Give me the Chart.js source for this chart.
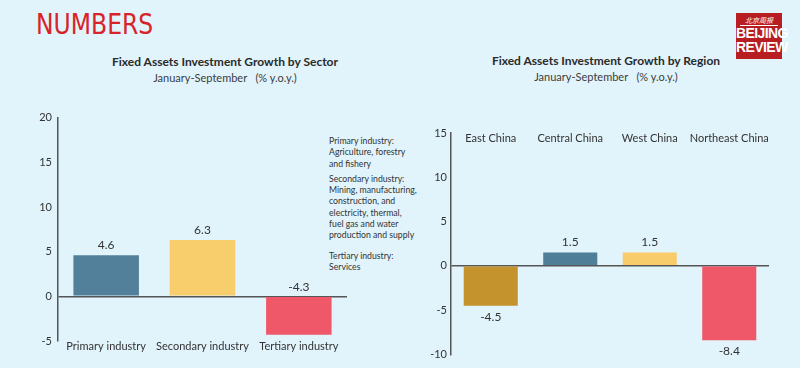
<!DOCTYPE html>
<html>
<head>
<meta charset="utf-8">
<script src="https://cdn.jsdelivr.net/npm/chart.js@4.4.0/dist/chart.umd.min.js"></script>
<style>
  html, body { margin: 0; padding: 0; }
  body { width: 800px; height: 368px; background: #e1f3fb; position: relative; overflow: hidden; font-family: Lato, "Open Sans", sans-serif; color: #333; }
  .brand { position: absolute; left: 36px; top: 7px; font-family: "Liberation Sans Narrow", "DejaVu Sans Condensed", sans-serif; font-size: 29px; color: #d8232a; transform: scaleX(0.9); transform-origin: left top; }
  .title { position: absolute; text-align: center; font-weight: bold; font-size: 12px; color: #2a2a2a; width: 360px; }
  .sub { position: absolute; text-align: center; font-size: 11px; color: #3c3c3c; width: 360px; white-space: pre; }
  .box { position: absolute; }
  .note { position: absolute; left: 329px; top: 135px; font-size: 8.7px; line-height: 11.3px; color: #333; }
  .note p { margin: 0 0 4px 0; }
  .logo { position: absolute; left: 736px; top: 13px; width: 46px; height: 46px; background: #b81d22; color: #fff; text-align: center; }
  .logo .cn { font-family: "Noto Sans CJK SC", sans-serif; font-size: 7px; line-height: 9px; margin-top: 3px; font-style: italic; border-bottom: 1px solid #fff; margin-left: 4px; margin-right: 4px; }
  .logo .en { font-family: "Liberation Sans Narrow", sans-serif; font-weight: bold; font-size: 14px; line-height: 14px; letter-spacing: -0.6px; }
</style>
</head>
<body>
<div class="brand">NUMBERS</div>
<div class="logo"><div class="cn">北京周报</div><div class="en">BEIJING</div><div class="en">REVIEW</div></div>

<div class="title" style="left:45px; top:54px;">Fixed Assets Investment Growth by Sector</div>
<div class="sub" style="left:45px; top:71px;">January-September   (% y.o.y.)</div>
<div class="title" style="left:426px; top:53px;">Fixed Assets Investment Growth by Region</div>
<div class="sub" style="left:426px; top:70px;">January-September   (% y.o.y.)</div>

<div class="note">
  <p>Primary industry:<br>Agriculture, forestry<br>and fishery</p>
  <p>Secondary industry:<br>Mining, manufacturing,<br>construction, and<br>electricity, thermal,<br>fuel gas and water<br>production and supply</p>
  <p style="margin-top:9px">Tertiary industry:<br>Services</p>
</div>

<div class="box" style="left:0px; top:105px; width:350px; height:260px;"><canvas id="sectorChart"></canvas></div>
<div class="box" style="left:400px; top:105px; width:380px; height:260px;"><canvas id="regionChart"></canvas></div>

<script>
const sectorLabels = ["Primary industry", "Secondary industry", "Tertiary industry"]
const sectorValues = [4.6, 6.3, -4.3]
const sectorColors = ["#527f99", "#f8cd6c", "#ef5868"]
const sectorMin = -5
const sectorMax = 20

const regionLabels = ["East China", "Central China", "West China", "Northeast China"]
const regionValues = [-4.5, 1.5, 1.5, -8.4]
const regionColors = ["#c4932e", "#4e7e98", "#f8cc6a", "#ef5868"]
const regionMin = -10
const regionMax = 15

const tickStep = 5
const textColor = "#333"
const axisColor = "#555"

// value labels over / under the bars, and category names inside the top of the plot
const valueLabels = {
	id: "valueLabels",
	afterDatasetsDraw(chart, args, opts) {
		const ctx = chart.ctx
		const meta = chart.getDatasetMeta(0)
		const data = chart.data.datasets[0].data
		ctx.save()
		ctx.font = "12px Lato"
		ctx.fillStyle = textColor
		ctx.textAlign = "center"
		ctx.textBaseline = "middle"
		meta.data.forEach((bar, i) => {
			const v = data[i]
			let y
			if (v >= 0 || opts.mode === "above") {
				y = Math.min(bar.y, bar.base) - 10
			} else {
				y = Math.max(bar.y, bar.base) + 11
			}
			ctx.fillText(String(v), bar.x, y)
		})
		if (opts.topLabels) {
			const xs = chart.scales.x
			ctx.font = "11px Lato"
			chart.data.labels.forEach((lab, i) => {
				ctx.fillText(lab, xs.getPixelForValue(i), chart.chartArea.top + 5)
			})
		}
		ctx.restore()
	}
}

function makeChart(id, labels, values, colors, min, max, opts) {
	return new Chart(id, {
		type: "bar",
		data: {
			labels: labels,
			datasets: [{
				data: values,
				backgroundColor: colors,
				barPercentage: opts.barPct,
				categoryPercentage: 1
			}]
		},
		plugins: [valueLabels],
		options: {
			responsive: true,
			maintainAspectRatio: false,
			animation: false,
			layout: { padding: opts.padding },
			plugins: {
				legend: { display: false },
				tooltip: { enabled: false },
				valueLabels: { mode: opts.mode, topLabels: opts.topLabels }
			},
			scales: {
				x: {
					position: "bottom",
					grid: { display: false, drawTicks: false },
					border: { display: false },
					ticks: { display: !opts.topLabels, color: textColor, font: { family: "Lato", size: 11 }, padding: -1, maxRotation: 0 },
					afterFit: (scale) => { scale.height = opts.xHeight }
				},
				y: {
					min: min,
					max: max,
					grid: {
						drawTicks: false,
						color: (c) => c.tick && c.tick.value === 0 ? axisColor : "rgba(0,0,0,0)",
						lineWidth: 1.5
					},
					border: { display: true, color: axisColor, width: 1.5 },
					ticks: { stepSize: tickStep, color: textColor, font: { family: "Lato", size: 11 }, padding: opts.yPad },
					afterFit: (scale) => { scale.width = opts.yWidth }
				}
			}
		}
	})
}

makeChart("sectorChart", sectorLabels, sectorValues, sectorColors, sectorMin, sectorMax, {
	barPct: 0.68, mode: "above", topLabels: false, xHeight: 20, yPad: 6, yWidth: 58,
	padding: { left: 0, right: 3, top: 12, bottom: 4 }
})

makeChart("regionChart", regionLabels, regionValues, regionColors, regionMin, regionMax, {
	barPct: 0.68, mode: "outside", topLabels: true, xHeight: 0, yPad: 4, yWidth: 51,
	padding: { left: 0, right: 11, top: 28, bottom: 8 }
})
</script>
</body>
</html>
